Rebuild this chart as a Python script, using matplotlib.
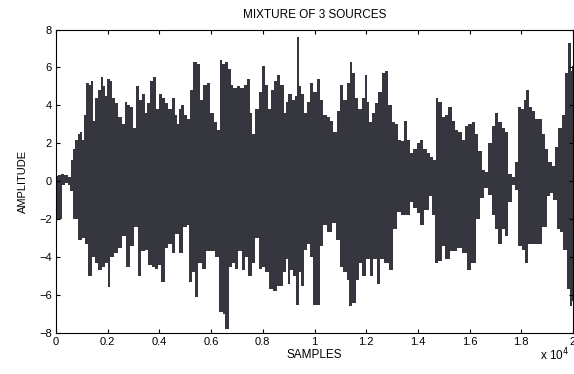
import matplotlib
matplotlib.use('Agg')
import matplotlib.pyplot as plt
from matplotlib.ticker import FuncFormatter

plt.rcParams.update({'font.family': 'Liberation Sans', 'font.size': 8})

# upper envelope of the mixed signal (sample index, amplitude)
upper_x = [0, 150, 250, 400, 540, 600, 700, 800, 900, 990, 1060, 1120, 1210, 1320, 1410,
           1470, 1570, 1680, 1770, 1860, 1940, 2030, 2120, 2220, 2350, 2480, 2610, 2710,
           2800, 2930, 3030, 3150, 3250, 3380, 3480, 3570, 3700, 3830, 3920, 4030, 4160,
           4280, 4410, 4540, 4650, 4740, 4800, 4900, 4990, 5120, 5250, 5380, 5510, 5640,
           5770, 5900, 6030, 6160, 6280, 6370, 6480, 6580, 6710, 6800, 6930, 7060, 7190,
           7320, 7450, 7540, 7660, 7770, 7900, 8030, 8160, 8260, 8350, 8480, 8610, 8740,
           8870, 8920, 9050, 9180, 9300, 9370, 9440, 9540, 9630, 9760, 9890, 10020, 10150,
           10280, 10410, 10540, 10660, 10790, 10920, 11050, 11180, 11310, 11400, 11500,
           11630, 11760, 11890, 11990, 12080, 12170, 12280, 12400, 12530, 12660, 12790,
           12920, 13050, 13180, 13280, 13410, 13540, 13630, 13760, 13890, 14020, 14150,
           14280, 14400, 14530, 14660, 14730, 14860, 14980, 15110, 15240, 15370, 15500,
           15630, 15760, 15890, 16020, 16140, 16270, 16400, 16530, 16660, 16790, 16920,
           17050, 17180, 17300, 17430, 17560, 17690, 17800, 17920, 18050, 18140, 18230,
           18340, 18470, 18600, 18720, 18850, 18980, 19110, 19240, 19370, 19500, 19630,
           19760, 19860, 19950, 20000]
upper_y = [0.3, 0.35, 0.4, 0.35, 0.2, 1.1, 1.7, 2.2, 2.5, 2.6, 2.2, 3.5, 5.2, 5.1, 5.3,
           3.2, 4.4, 4.8, 5.5, 5.0, 4.5, 5.4, 5.3, 4.4, 4.1, 3.4, 3.0, 4.2,
           4.0, 3.9, 2.8, 5.0, 4.3, 4.6, 3.6, 4.1, 5.3, 5.5, 3.8, 4.6, 4.4,
           4.1, 3.8, 4.4, 3.5, 3.0, 3.8, 4.0, 3.5, 3.3, 4.8, 6.3, 6.2, 4.3,
           5.1, 5.2, 3.6, 3.1, 2.7, 6.4, 6.2, 6.3, 5.9, 5.1, 4.9, 5.0, 4.9,
           5.1, 5.4, 3.6, 2.5, 3.8, 4.7, 6.1, 5.1, 3.8, 4.8, 5.3, 5.6, 5.1,
           3.6, 4.2, 4.6, 4.3, 4.5, 7.6, 5.0, 4.6, 3.6, 4.2, 5.2, 4.7, 5.4,
           4.3, 3.5, 3.4, 3.2, 2.6, 3.7, 5.1, 4.3, 5.2, 6.3, 5.7,
           4.4, 3.8, 4.4, 5.6, 4.2, 3.1, 3.6, 4.1, 4.7, 5.7, 5.8,
           4.0, 3.1, 3.0, 2.2, 2.1, 3.2, 2.2, 1.5, 1.7, 2.0, 2.2,
           1.7, 1.5, 1.3, 1.1, 4.4, 4.2, 3.4, 3.5, 3.9, 3.2, 2.7,
           2.6, 2.2, 2.9, 3.0, 3.1, 2.5, 1.6, 0.6, 0.5, 2.0, 2.9,
           3.6, 3.1, 2.8, 2.6, 0.4, 0.2, 1.0, 3.9, 3.8, 4.3, 4.8,
           3.9, 3.7, 3.3, 3.3, 2.5, 1.7, 1.0, 0.8, 1.8, 2.8, 3.5,
           5.7, 7.3, 5.8, 6.1]

# lower envelope of the mixed signal
lower_x = [0, 100, 200, 260, 400, 520, 600, 740, 930, 1060, 1190, 1320, 1450, 1570, 1700,
           1830, 1960, 2060, 2150, 2350, 2480, 2630, 2800, 2930, 3100, 3230, 3380, 3510,
           3640, 3770, 3900, 4030, 4130, 4280, 4410, 4540, 4670, 4860, 4990, 5120, 5190,
           5320, 5420, 5570, 5700, 5890, 6090, 6220, 6390, 6500, 6610, 6740, 6870, 6990,
           7120, 7250, 7380, 7510, 7640, 7770, 7900, 8030, 8160, 8350, 8440, 8670, 8860,
           8923, 8990, 9116, 9245, 9336, 9440, 9542, 9632, 9761, 9890, 10019, 10148, 10277,
           10406, 10599, 10754, 10922, 11050, 11180, 11308, 11399, 11528, 11657, 11786,
           11915, 12082, 12211, 12340, 12469, 12598, 12791, 12985, 13114, 13243, 13436,
           13630, 13759, 13887, 14016, 14145, 14339, 14494, 14622, 14726, 14855, 14984,
           15113, 15370, 15628, 15822, 15950, 16144, 16338, 16466, 16660, 16789, 16918,
           17047, 17176, 17305, 17434, 17563, 17692, 17820, 17949, 18078, 18207, 18336,
           18530, 18723, 18916, 19045, 19174, 19303, 19432, 19561, 19690, 19819, 19948,
           20000]
lower_y = [-1.0, -2.0, -2.0, -0.2, -0.1, -0.2, -0.5, -2.0, -3.1, -3.0, -3.3, -5.0, -4.0, -4.3, -4.7,
           -4.5, -4.3, -5.6, -4.0, -3.8, -3.5, -2.9, -4.5, -3.4, -2.4, -5.0, -3.7, -3.6,
           -4.4, -4.5, -4.6, -4.4, -5.3, -3.5, -3.3, -3.8, -2.8, -3.8, -2.4, -2.3, -5.3,
           -4.8, -6.1, -4.3, -4.6, -3.7, -3.7, -4.0, -6.9, -7.0, -7.8, -4.5, -4.3, -4.6,
           -3.7, -4.7, -4.0, -5.0, -4.3, -3.0, -4.6, -4.5, -4.8, -5.7, -5.8, -5.5, -4.8,
           -4.1, -5.4, -4.7, -5.0, -6.5, -4.8, -5.5, -3.6, -3.3, -4.0, -6.5, -6.5, -3.4,
           -2.3, -2.7, -2.2, -3.1, -4.5, -4.8, -5.2, -6.6, -6.4, -5.2, -4.3,
           -5.0, -4.1, -5.0, -4.1, -5.4, -4.1, -4.3, -4.7, -2.5, -1.6, -1.8,
           -1.8, -1.1, -1.4, -1.7, -2.3, -1.5, -0.8, -1.8, -4.3, -4.2, -3.4,
           -4.1, -3.7, -3.5, -3.8, -4.7, -4.3, -2.0, -0.9, -0.35, -0.7, -1.8,
           -2.5, -3.3, -2.5, -2.9, -1.1, -0.2, -0.45, -3.4, -3.6, -4.3, -3.3,
           -3.3, -3.3, -2.4, -0.8, -0.6, -1.0, -2.5, -2.7, -3.6, -5.7, -6.6,
           -6.3]

x_ticks = [0, 2000, 4000, 6000, 8000, 10000, 12000, 14000, 16000, 18000, 20000]
y_ticks = [-8, -6, -4, -2, 0, 2, 4, 6, 8]

fig = plt.figure(figsize=(5.74, 3.74), dpi=100)
ax = fig.add_axes([56 / 574, 41 / 374, 517 / 574, 303.5 / 374])

# the dense waveform shows as a filled band between its envelopes
ax.fill_between(upper_x, upper_y, 0, step='mid', color='#36363e', linewidth=0)
ax.fill_between(lower_x, lower_y, 0, step='mid', color='#36363e', linewidth=0)

ax.set_xlim(0, 20000)
ax.set_ylim(-8, 8)
ax.set_xticks(x_ticks)
ax.set_yticks(y_ticks)
ax.xaxis.set_major_formatter(FuncFormatter(lambda v, p: '%g' % (v / 1e4)))
ax.tick_params(direction='in', length=3, width=0.8, top=True, right=True, pad=3)
for s in ax.spines.values():
    s.set_linewidth(0.8)

ax.set_title('MIXTURE OF 3 SOURCES', fontsize=8.5, pad=8)
ax.set_xlabel('SAMPLES', fontsize=8.5, labelpad=1)
ax.set_ylabel('AMPLITUDE', fontsize=8, labelpad=8)
fig.text(540 / 574, 1 - 355 / 374, 'x 10$^4$', fontsize=8.5, va='center', ha='left')

fig.savefig('out.png', dpi=100)
